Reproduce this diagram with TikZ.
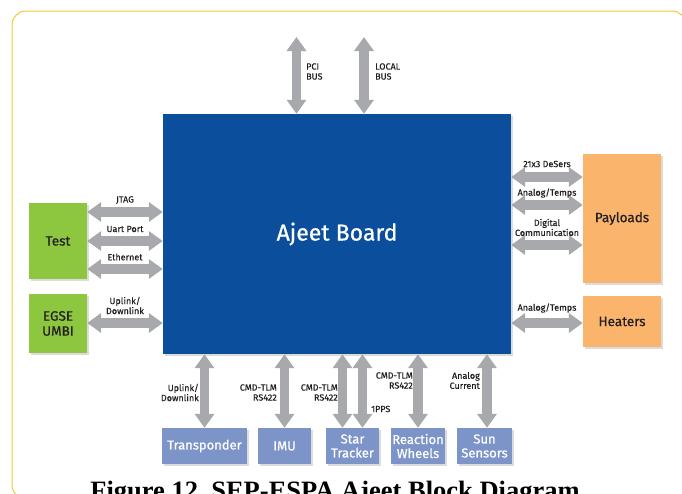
\documentclass[tikz,border=0pt]{standalone}
\usepackage{fontspec}
\setmainfont{Fira Sans}
\newfontfamily\medfont{Fira Sans}[FakeBold=0.35]
\newfontfamily\semfont{Fira Sans}[FakeBold=0.7]
\newfontfamily\capfont{Liberation Serif}
\usetikzlibrary{arrows.meta}
\definecolor{boardblue}{HTML}{0B4F9C}
\definecolor{testgreen}{HTML}{8DC63F}
\definecolor{payorange}{HTML}{FAB46B}
\definecolor{subblue}{HTML}{7D94C9}
\definecolor{arrowgray}{HTML}{A7A9AC}
\definecolor{framey}{HTML}{F2C934}
\definecolor{labeltext}{HTML}{231F20}
\tikzset{
  blk/.style={draw=none, inner sep=0pt, align=center,
    preaction={fill=black!14, transform canvas={xshift=1.5pt, yshift=-1.5pt}}},
  greenbox/.style={blk, fill=testgreen, text=labeltext, font=\semfont\fontsize{13.5}{15}\selectfont},
  orangebox/.style={blk, fill=payorange, text=labeltext, font=\semfont\fontsize{13.5}{15}\selectfont},
  subbox/.style={blk, fill=subblue, text=white, font=\semfont\fontsize{13}{14}\selectfont, minimum height=36pt},
  bi/.style={draw=arrowgray, line width=9.5pt,
    {Triangle[length=14pt,width=19pt]}-{Triangle[length=14pt,width=19pt]}},
  lbl/.style={inner sep=0pt, text=labeltext, font=\medfont\fontsize{9}{10}\selectfont},
}
\begin{document}
\begin{tikzpicture}[x=1pt,y=-1pt]
\path[use as bounding box] (0,0) rectangle (682,493);
\clip (0,0) rectangle (682,493);
\fill[white] (0,0) rectangle (682,493);
\draw[framey, line width=1pt, rounded corners=14pt] (12,11) rectangle (686,499);

% main board
\node[blk, fill=boardblue, text=white, minimum width=348pt, minimum height=240pt,
  font=\semfont\fontsize{23}{25}\selectfont] (board) at (337,234) {Ajeet Board};

% left boxes
\node[greenbox, minimum width=58pt, minimum height=76pt] (test) at (58,241) {Test};
\node[greenbox, minimum width=58pt, minimum height=59pt] (egse) at (58,323.5) {EGSE\\UMBI};

% right boxes
\node[orangebox, minimum width=78pt, minimum height=129pt] (pay) at (622,218.5) {Payloads};
\node[orangebox, minimum width=78pt, minimum height=51pt] (heat) at (622,321.5) {Heaters};

% bottom boxes
\node[subbox, minimum width=85pt] (trans) at (204.5,446) {Transponder};
\node[subbox, minimum width=53pt] (imu) at (284.5,446) {IMU};
\node[subbox, minimum width=53pt] (star) at (352.5,446) {Star\\Tracker};
\node[subbox, minimum width=54pt] (rw) at (418,446) {Reaction\\Wheels};
\node[subbox, minimum width=55pt] (sun) at (484.5,446) {Sun\\Sensors};

% top arrows
\coordinate (pcitop) at (296.5,37);
\coordinate (loctop) at (364,37);
\draw[bi] (pcitop) -- (pcitop |- board.north);
\draw[bi] (loctop) -- (loctop |- board.north);
\node[lbl, anchor=west, align=left] (pcil) at (306,71.5) {PCI\\BUS};
\node[lbl, anchor=west, align=left] (locl) at (375,71.5) {LOCAL\\BUS};

% left arrows
\draw[bi] (test.east |- 0,212) -- (board.west |- 0,212);
\draw[bi] (test.east |- 0,241) -- (board.west |- 0,241);
\draw[bi] (test.east |- 0,269) -- (board.west |- 0,269);
\draw[bi] (egse.east |- 0,323) -- (board.west |- 0,323);
\node[lbl] (jtag) at (125,200) {JTAG};
\node[lbl] (uart) at (125,229) {Uart Port};
\node[lbl] (eth) at (125,257) {Ethernet};
\node[lbl, align=center] (uplk) at (125,305.5) {Uplink/\\Downlink};

% right arrows
\draw[bi] (board.east |- 0,177) -- (pay.west |- 0,177);
\draw[bi] (board.east |- 0,205) -- (pay.west |- 0,205);
\draw[bi] (board.east |- 0,245) -- (pay.west |- 0,245);
\draw[bi] (board.east |- 0,323) -- (heat.west |- 0,323);
\node[lbl] (deser) at (547,164) {21x3 DeSers};
\node[lbl] (antmp) at (547,193) {Analog/Temps};
\node[lbl, align=center] (digc) at (547,227.5) {Digital\\Communication};
\node[lbl] (antmph) at (547,308) {Analog/Temps};

% bottom arrows
\draw[bi] (board.south -| trans) -- (trans.north);
\draw[bi] (board.south -| imu) -- (imu.north);
\draw[bi] (board.south -| 342.5,0) -- (star.north -| 342.5,0);
\draw[bi] (board.south -| 362.5,0) -- (star.north -| 362.5,0);
\draw[bi] (board.south -| rw) -- (rw.north);
\draw[bi] (board.south -| 487,0) -- (sun.north -| 487,0);
\node[lbl, anchor=east, align=right] (uplb) at (199,392.5) {Uplink/\\Downlink};
\node[lbl, anchor=east, align=right] (imul) at (277,392.5) {CMD-TLM\\RS422};
\node[lbl, anchor=east, align=right] (starl) at (338,392.5) {CMD-TLM\\RS422};
\node[lbl, anchor=east, align=right] (rwl) at (413,380.5) {CMD-TLM\\RS422};
\node[lbl, anchor=west] (pps) at (371,409) {1PPS};
\node[lbl, anchor=east, align=right] (sunl) at (480,380.5) {Analog\\Current};

% caption
\node[anchor=base, inner sep=0pt, font=\capfont\bfseries\fontsize{26.5}{28}\selectfont] (cap) at (335,499) {Figure 12.\ SEP-ESPA Ajeet Block Diagram};
\end{tikzpicture}
\end{document}
